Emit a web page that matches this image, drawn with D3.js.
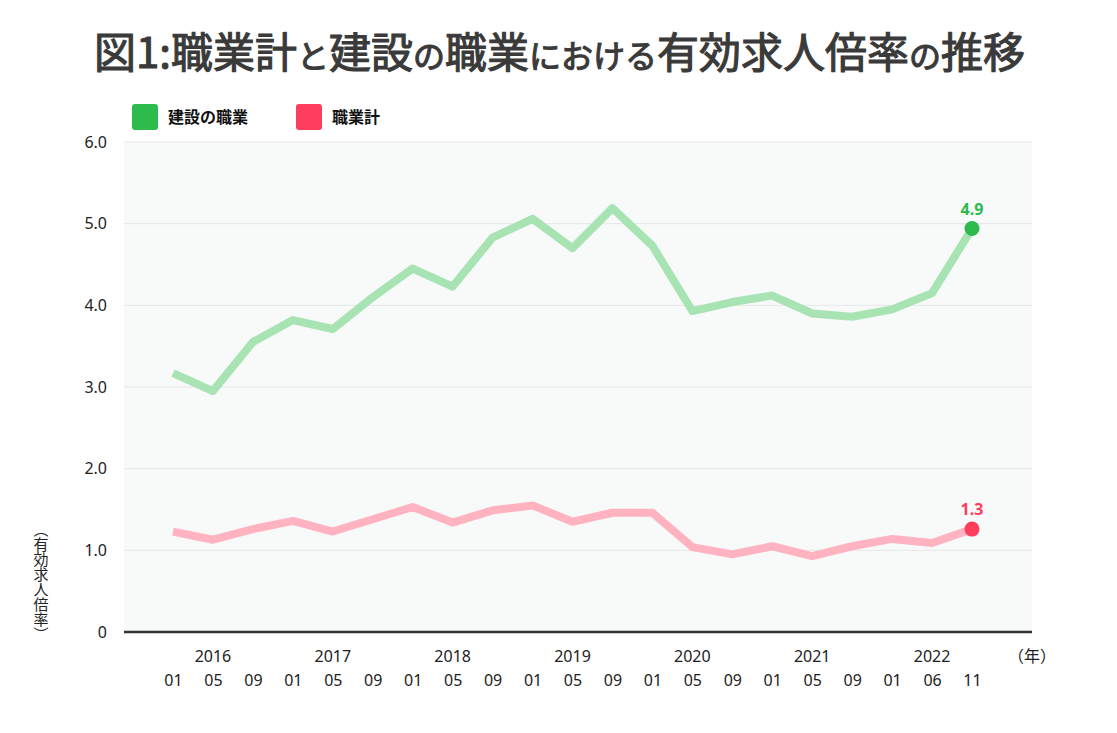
<!DOCTYPE html>
<html>
<head>
<meta charset="utf-8">
<script src="https://cdn.jsdelivr.net/npm/d3@7"></script>
<style>
  body { margin: 0; background: #fff; }
  svg { display: block; }
  text { font-family: "Noto Sans", "Noto Sans CJK JP", sans-serif; fill: #222; }
  .jp { font-family: "Noto Sans CJK JP", sans-serif; }
</style>
</head>
<body>
<div id="chart"></div>
<script>
// Set up conventions
let width = 1117;
let height = 733;
let plot = ({left: 124, right: 1032, top: 142, bottom: 632});

// data
let periods = ["2016-01", "2016-05", "2016-09", "2017-01", "2017-05", "2017-09",
  "2018-01", "2018-05", "2018-09", "2019-01", "2019-05", "2019-09",
  "2020-01", "2020-05", "2020-09", "2021-01", "2021-05", "2021-09",
  "2022-01", "2022-06", "2022-11"];
let monthLabels = ["01", "05", "09", "01", "05", "09", "01", "05", "09", "01", "05", "09",
  "01", "05", "09", "01", "05", "09", "01", "06", "11"];
let yearLabels = ["2016", "2017", "2018", "2019", "2020", "2021", "2022"];
let yearAnchors = ["2016-05", "2017-05", "2018-05", "2019-05", "2020-05", "2021-05", "2022-06"];
let construction = [3.17, 2.95, 3.55, 3.82, 3.71, 4.10, 4.45, 4.23, 4.83, 5.06, 4.70, 5.19,
  4.73, 3.93, 4.04, 4.12, 3.90, 3.86, 3.95, 4.15, 4.94];
let allJobs = [1.23, 1.13, 1.26, 1.36, 1.23, 1.38, 1.53, 1.34, 1.49, 1.55, 1.35, 1.46,
  1.46, 1.04, 0.95, 1.05, 0.93, 1.05, 1.14, 1.09, 1.26];
let yTicks = [0, 1, 2, 3, 4, 5, 6];
let seriesNames = ["建設の職業", "職業計"];

let colors = {
  green: "#a7e3b3", greenDot: "#2dbb4e",
  pink: "#ffb3c1", pinkDot: "#ff3d5c"
};

let svg = d3.select("#chart")
  .append("svg")
  .attr("width", width)
  .attr("height", height)

// Title, mixed sizes like the original
let titleParts = [
  ["図1:職業計", 42], ["と", 32], ["建設", 42], ["の", 32], ["職業", 42],
  ["における", 32], ["有効求人倍率", 42], ["の", 32], ["推移", 42]
];
let title = svg.append("text")
  .attr("class", "jp")
  .attr("x", width / 2 + 1)
  .attr("y", 68)
  .attr("text-anchor", "middle")
  .style("font-weight", "400")
  .style("fill", "#3a3a3a")
  .style("stroke", "#3a3a3a")
  .style("stroke-width", "1.1px")
title.selectAll("tspan")
  .data(titleParts)
  .enter()
  .append("tspan")
  .style("font-size", d => d[1] + "px")
  .text(d => d[0])

// Legend
let legend = svg.append("g")
  .selectAll("g")
  .data(seriesNames)
  .enter()
  .append("g")
  .attr("transform", (d, i) => "translate(" + (i === 0 ? 132 : 296) + ",104)")
legend.append("rect")
  .attr("width", 26)
  .attr("height", 26)
  .attr("rx", 3)
  .attr("fill", (d, i) => i === 0 ? colors.greenDot : colors.pinkDot)
legend.append("text")
  .attr("class", "jp")
  .attr("x", 36)
  .attr("y", 19)
  .style("font-size", "16px")
  .style("font-weight", "700")
  .style("fill", "#111")
  .text(d => d)

// Scales
let xScale = d3.scalePoint()
  .domain(periods)
  .range([173, 972])

let yScale = d3.scaleLinear()
  .domain([0, 6])
  .range([plot.bottom, plot.top])

// plot background
svg.append("rect")
  .attr("x", plot.left)
  .attr("y", plot.top)
  .attr("width", plot.right - plot.left)
  .attr("height", plot.bottom - plot.top)
  .attr("fill", "#f8f9f9")

// gridlines
svg.append("g")
  .selectAll("line")
  .data(yTicks.filter(d => d > 0))
  .enter()
  .append("line")
  .attr("x1", plot.left)
  .attr("x2", plot.right)
  .attr("y1", d => yScale(d))
  .attr("y2", d => yScale(d))
  .attr("stroke", "#e6e7e7")
  .attr("stroke-width", 1)

// y axis labels
let yAxis = d3.axisLeft(yScale)
  .tickValues(yTicks)
  .tickSize(0)
  .tickPadding(0)
  .tickFormat(d => d === 0 ? "0" : d3.format(".1f")(d))
let yg = svg.append("g")
  .attr("transform", "translate(107,0)")
  .call(yAxis)
yg.select(".domain").remove()
yg.selectAll("text")
  .style("font-size", "16px")
  .style("fill", "#222")
  .attr("font-family", null)

// baseline
svg.append("line")
  .attr("x1", plot.left)
  .attr("x2", plot.right)
  .attr("y1", yScale(0))
  .attr("y2", yScale(0))
  .attr("stroke", "#333")
  .attr("stroke-width", 2.5)

// x axis: months then years
let xAxis = d3.axisBottom(xScale)
  .tickSize(0)
  .tickPadding(0)
  .tickFormat((d, i) => monthLabels[i])
let xg = svg.append("g")
  .attr("transform", "translate(0,686)")
  .call(xAxis)
xg.select(".domain").remove()
xg.selectAll("text")
  .attr("y", 0)
  .attr("dy", null)
  .style("font-size", "16px")
  .style("fill", "#222")
  .attr("font-family", null)

svg.append("g")
  .selectAll("text")
  .data(yearLabels)
  .enter()
  .append("text")
  .attr("x", (d, i) => xScale(yearAnchors[i]))
  .attr("y", 662)
  .attr("text-anchor", "middle")
  .style("font-size", "16px")
  .text(d => d)

svg.append("text")
  .attr("class", "jp")
  .attr("x", plot.right)
  .attr("y", 662)
  .attr("text-anchor", "middle")
  .style("font-size", "16px")
  .text("（年）")

// y axis title, vertical
svg.append("text")
  .attr("class", "jp")
  .attr("x", 41)
  .attr("y", 522)
  .style("writing-mode", "vertical-rl")
  .style("font-size", "15px")
  .text("（有効求人倍率）")

// Lines
let line = d3.line()
  .x((d, i) => xScale(periods[i]))
  .y(d => yScale(d))

let series = [
  {values: construction, stroke: colors.green, dot: colors.greenDot},
  {values: allJobs, stroke: colors.pink, dot: colors.pinkDot}
]

series.forEach(s => {
  svg.append("path")
    .datum(s.values)
    .attr("d", line)
    .attr("fill", "none")
    .attr("stroke", s.stroke)
    .attr("stroke-width", 8)
    .attr("stroke-linejoin", "round")

  let last = s.values.length - 1
  let lx = xScale(periods[last])
  let ly = yScale(s.values[last])
  svg.append("circle")
    .attr("cx", lx)
    .attr("cy", ly)
    .attr("r", 7.5)
    .attr("fill", s.dot)
  svg.append("text")
    .attr("x", lx)
    .attr("y", ly - 14)
    .attr("text-anchor", "middle")
    .style("font-size", "16px")
    .style("font-weight", "700")
    .style("fill", s.dot)
    .text(d3.format(".1f")(s.values[last]))
})
</script>
</body>
</html>
